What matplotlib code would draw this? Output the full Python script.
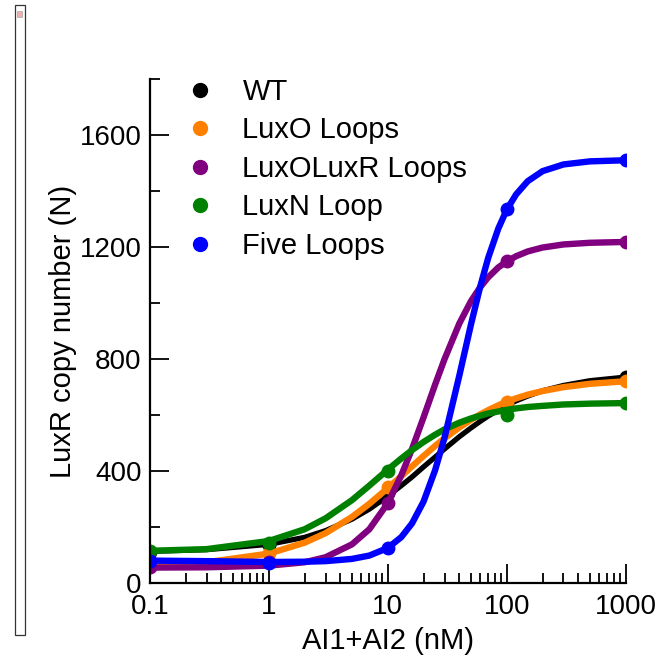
import matplotlib
matplotlib.use("Agg")
import matplotlib.pyplot as plt
from matplotlib.lines import Line2D
from matplotlib.patches import Rectangle

plt.rcParams['font.family'] = ['Liberation Sans', 'DejaVu Sans']

# measured doses (nM) and the marker values
doses = [0.1, 1, 10, 100, 1000]
wt_pts = [112, 136, 321, 630, 736]
luxo_pts = [64, 107, 344, 646, 721]
luxolux_pts = [58, 76, 285, 1150, 1218]
luxn_pts = [115, 143, 401, 600, 643]
five_pts = [80, 73, 125, 1336, 1511]

# fitted curves at these doses
curve_x = [0.1, 0.3, 1, 2, 3, 5, 7, 10, 13, 16, 20, 25, 30, 40, 50, 60, 70, 85,
           100, 120, 150, 200, 300, 500, 1000]
wt_curve = [113, 119, 138, 163, 187, 228, 264, 310, 348, 379, 415, 450, 479, 523,
            554, 578, 597, 618, 635, 651, 668, 687, 706, 723, 736]
luxo_curve = [65, 74, 105, 144, 178, 236, 283, 339, 382, 417, 454, 490, 517, 556,
              583, 603, 618, 635, 648, 660, 673, 686, 700, 712, 721]
luxolux_curve = [55, 56, 62, 74, 92, 138, 192, 285, 385, 479, 592, 709, 800, 928,
                 1007, 1058, 1093, 1128, 1149, 1168, 1185, 1199, 1210, 1216, 1219]
luxn_curve = [115, 121, 150, 192, 231, 296, 348, 405, 445, 475, 504, 530, 549, 573,
              588, 598, 606, 613, 619, 624, 629, 633, 638, 641, 643]
five_curve = [80, 78, 75, 76, 78, 86, 98, 125, 164, 213, 291, 403, 519, 742,
              923, 1061, 1163, 1267, 1334, 1389, 1436, 1472, 1496, 1507, 1511]

names = ["WT", "LuxO Loops", "LuxOLuxR Loops", "LuxN Loop", "Five Loops"]
colors = ["black", "#ff8000", "#800080", "#008000", "#0000ff"]
points = [wt_pts, luxo_pts, luxolux_pts, luxn_pts, five_pts]
curves = [wt_curve, luxo_curve, luxolux_curve, luxn_curve, five_curve]

fig = plt.figure(figsize=(6.6, 6.6), dpi=100)
ax = fig.add_axes([0.227, 0.1167, 0.721, 0.763])

for name, c, pts, cv in zip(names, colors, points, curves):
    lw = 3.8 if c == "black" else 4.6
    ax.plot(curve_x, cv, color=c, lw=lw, solid_capstyle='butt', solid_joinstyle='round')
    ax.plot(doses, pts, 'o', color=c, ms=9, mec=c)

ax.set_xscale('log')
ax.set_xlim(0.1, 1000)
ax.set_ylim(0, 1800)
ax.set_yticks([0, 400, 800, 1200, 1600])
ax.set_yticks([200, 600, 1000, 1400, 1800], minor=True)
ax.set_xticks([0.1, 1, 10, 100, 1000])
ax.set_xticklabels(["0.1", "1", "10", "100", "1000"])

for s in ['top', 'right']:
    ax.spines[s].set_visible(False)
for s in ['left', 'bottom']:
    ax.spines[s].set_linewidth(1.6)

ax.tick_params(which='major', direction='in', length=14, width=1.3, labelsize=20, pad=6)
ax.tick_params(axis='x', which='major', pad=8)
ax.tick_params(which='minor', direction='in', length=7, width=1.3)

ax.set_xlabel("AI1+AI2 (nM)", fontsize=21, labelpad=5)
ax.set_ylabel("LuxR copy number (N)", fontsize=21, labelpad=2)

handles = [Line2D([], [], ls='none', marker='o', color=c, ms=10) for c in colors]
ax.legend(handles, names, loc='upper left', bbox_to_anchor=(0.069, 1.003),
          frameon=False, fontsize=21, handletextpad=0.85, labelspacing=0.36,
          handlelength=1.2, borderpad=0, borderaxespad=0)

# thin box at the left edge of the image
fig.add_artist(Rectangle((0.0227, 0.038), 0.0152, 0.954, transform=fig.transFigure,
                         fill=False, edgecolor='#333333', lw=0.9))
fig.add_artist(Rectangle((0.026, 0.975), 0.008, 0.008, transform=fig.transFigure,
                         facecolor='#f0b0b0', edgecolor='#aaaaaa', lw=0.5))

fig.savefig("out.png", dpi=100)
